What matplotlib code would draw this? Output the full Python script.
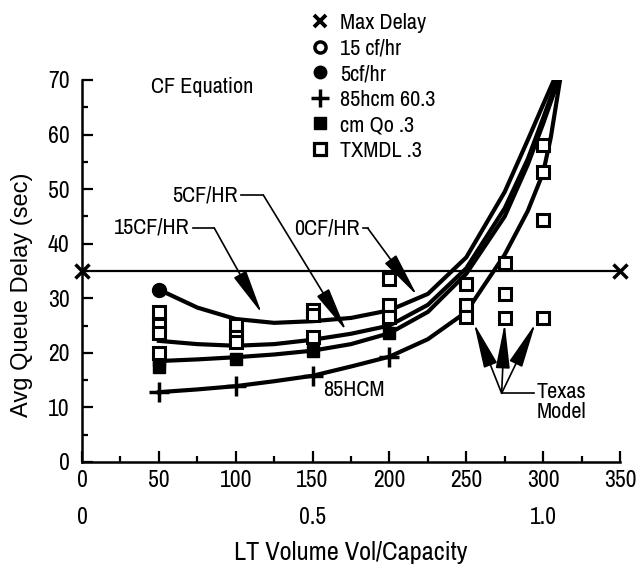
import matplotlib
matplotlib.use('Agg')
import matplotlib.pyplot as plt
from matplotlib import font_manager
from matplotlib.lines import Line2D
from matplotlib.ticker import MultipleLocator
import matplotlib.transforms as mtransforms

# look for a narrow face; fall back to DejaVu Sans
fonts = font_manager.fontManager.ttflist
narrow_names = sorted({f.name for f in fonts if 'Narrow' in f.name or 'Condensed' in f.name})
cond_faces = sorted({f.name for f in fonts if f.stretch in ('condensed', 'semi-condensed', 'extra-condensed', 600, 500)})
if narrow_names:
    NARROW, STRETCH = narrow_names[0], 'normal'
elif cond_faces:
    NARROW, STRETCH = cond_faces[0], 'condensed'
else:
    NARROW, STRETCH = 'DejaVu Sans', 'normal'
names = {f.name for f in fonts}
REGULAR = 'Liberation Sans' if 'Liberation Sans' in names else 'DejaVu Sans'
plt.rcParams['font.family'] = [NARROW, 'DejaVu Sans']
plt.rcParams['font.stretch'] = STRETCH

# curves
cf15_x = [50, 75, 100, 125, 150, 175, 200, 225, 250, 275, 290, 300, 307]
cf15_y = [31.6, 28.3, 26.2, 25.5, 25.8, 26.4, 27.8, 30.8, 37.5, 49.5, 59, 65.5, 70]
cf5_x = [50, 75, 100, 125, 150, 175, 200, 225, 250, 275, 290, 300, 309]
cf5_y = [22.2, 21.6, 21.3, 21.6, 22.4, 23.5, 25.0, 28.8, 35.5, 46.5, 55.5, 63, 70]
cf0_x = [50, 75, 100, 125, 150, 175, 200, 225, 250, 275, 290, 300, 310]
cf0_y = [18.5, 18.8, 19.2, 19.7, 20.4, 21.6, 23.6, 27.5, 34.5, 45, 54.5, 62, 70]
hcm_x = [50, 75, 100, 125, 150, 175, 200, 225, 250, 275, 290, 300, 305, 311]
hcm_y = [12.8, 13.3, 13.9, 14.8, 15.8, 17.5, 19.3, 22.5, 27.5, 38, 46, 53, 59.5, 70]

# markers
max_x = [0, 350]
max_y = [35, 35]
circ_x = [50]
circ_y = [31.6]
plus_x = [50, 100, 150, 200]
plus_y = [12.8, 13.9, 15.8, 19.3]
cmq_x = [50, 50, 100, 150, 200]
cmq_y = [17.5, 18.6, 18.8, 20.4, 23.7]
tx_x = [50, 50, 50, 50, 100, 100, 100, 150, 150, 150, 200, 200, 200,
        250, 250, 250, 275, 275, 275, 300, 300, 300, 300]
tx_y = [27.5, 25.1, 23.6, 19.9, 25.1, 22.9, 21.9, 27.8, 26.9, 22.9, 33.6, 28.7, 26.6,
        32.7, 28.7, 26.5, 36.4, 30.7, 26.3, 58.1, 53.2, 44.3, 26.3]

legend_labels = ['Max Delay', '15 cf/hr', '5cf/hr', '85hcm 60.3', 'cm Qo .3', 'TXMDL .3']
xticks = [0, 50, 100, 150, 200, 250, 300, 350]
vc_pos = [0, 150, 300]
vc_labels = ['0', '0.5', '1.0']

fig = plt.figure(figsize=(6.37, 5.66), dpi=100)
ax = fig.add_axes([82 / 637, 104 / 566, 538 / 637, 382 / 566])

lw = 3.0
ax.plot(max_x, max_y, color='black', lw=1.6, marker='x', ms=10, mew=2.5, clip_on=False, zorder=3)
ax.plot(cf15_x, cf15_y, color='black', lw=lw)
ax.plot(cf5_x, cf5_y, color='black', lw=lw)
ax.plot(cf0_x, cf0_y, color='black', lw=lw)
ax.plot(hcm_x, hcm_y, color='black', lw=lw)

ax.plot(circ_x, circ_y, 'o', color='black', ms=10, zorder=4)
ax.plot(plus_x, plus_y, '+', color='black', ms=14, mew=2.5, zorder=4)
ax.plot(cmq_x, cmq_y, 's', color='black', ms=9, zorder=4)
ax.plot(tx_x, tx_y, 's', mfc='white', mec='black', ms=8, mew=2.2, zorder=5)

ax.set_xlim(0, 350)
ax.set_ylim(0, 70)
ax.set_xticks(xticks)
ax.set_yticks(range(0, 71, 10))
ax.xaxis.set_minor_locator(MultipleLocator(25))
ax.yaxis.set_minor_locator(MultipleLocator(5))
ax.tick_params(which='major', direction='in', length=8, width=1.6, labelsize=17)
ax.tick_params(which='minor', direction='in', length=4, width=1.6)
ax.tick_params(axis='y', pad=9)
ax.tick_params(axis='x', pad=6)
for s in ['top', 'right']:
    ax.spines[s].set_visible(False)
for s in ['left', 'bottom']:
    ax.spines[s].set_linewidth(1.8)

# second row of x labels (vol/capacity) and axis titles
trans = mtransforms.blended_transform_factory(ax.transData, ax.transAxes)
for p, t in zip(vc_pos, vc_labels):
    ax.text(p, -0.144, t, transform=trans, ha='center', va='center', fontsize=17)
ax.text(0.5, -0.238, 'LT Volume Vol/Capacity', transform=ax.transAxes,
        ha='center', va='center', fontsize=19)
fig.text(22 / 637, 1 - 295 / 566, 'Avg Queue Delay (sec)', rotation=90,
         ha='center', va='center', fontsize=17, family=[REGULAR, 'DejaVu Sans'],
         fontstretch='normal')

ax.text(45, 68.7, 'CF Equation', ha='left', va='center', fontsize=16)
ax.text(157, 13.2, '85HCM', ha='left', va='center', fontsize=16)

head = dict(arrowstyle='-|>,head_length=1.4,head_width=0.22', color='black',
            lw=1.2, shrinkA=0, shrinkB=0, mutation_scale=20)

# curve labels with leader lines
labels = [('15CF/HR', 70, 42.9, 86, 117, 27.2),
          ('5CF/HR', 101.5, 48.9, 118, 172, 24.0),
          ('0CF/HR', 180.5, 42.8, 186, 218, 30.5)]
for txt, xe, yt, xc, xt, ytip in labels:
    ax.text(xe, yt, txt, ha='right', va='center', fontsize=16)
    ax.plot([xe + 2, xc], [yt, yt], color='black', lw=1.2)
    ax.annotate('', xy=(xt, ytip), xytext=(xc, yt), arrowprops=head)

# Texas model arrows
for xt in [255, 275, 295]:
    ax.annotate('', xy=(xt, 25.4), xytext=(273, 12.6), arrowprops=head)
ax.plot([273, 294], [12.6, 12.6], color='black', lw=1.2)
ax.text(296, 12.8, 'Texas', ha='left', va='center', fontsize=16)
ax.text(296, 9.2, 'Model', ha='left', va='center', fontsize=16)

handles = [
    Line2D([], [], ls='none', marker='x', color='black', ms=9, mew=2.8),
    Line2D([], [], ls='none', marker='o', mfc='white', mec='black', ms=8, mew=2.5),
    Line2D([], [], ls='none', marker='o', color='black', ms=9),
    Line2D([], [], ls='none', marker='+', color='black', ms=13, mew=2.5),
    Line2D([], [], ls='none', marker='s', color='black', ms=8),
    Line2D([], [], ls='none', marker='s', mfc='white', mec='black', ms=8, mew=2.3),
]
fig.legend(handles, legend_labels, loc='upper left', bbox_to_anchor=(309 / 637, 1 - 13 / 566),
           frameon=False, fontsize=16, handlelength=1.0, handletextpad=0.4,
           labelspacing=0.25, borderpad=0, borderaxespad=0)

fig.savefig('out.png', dpi=100)
